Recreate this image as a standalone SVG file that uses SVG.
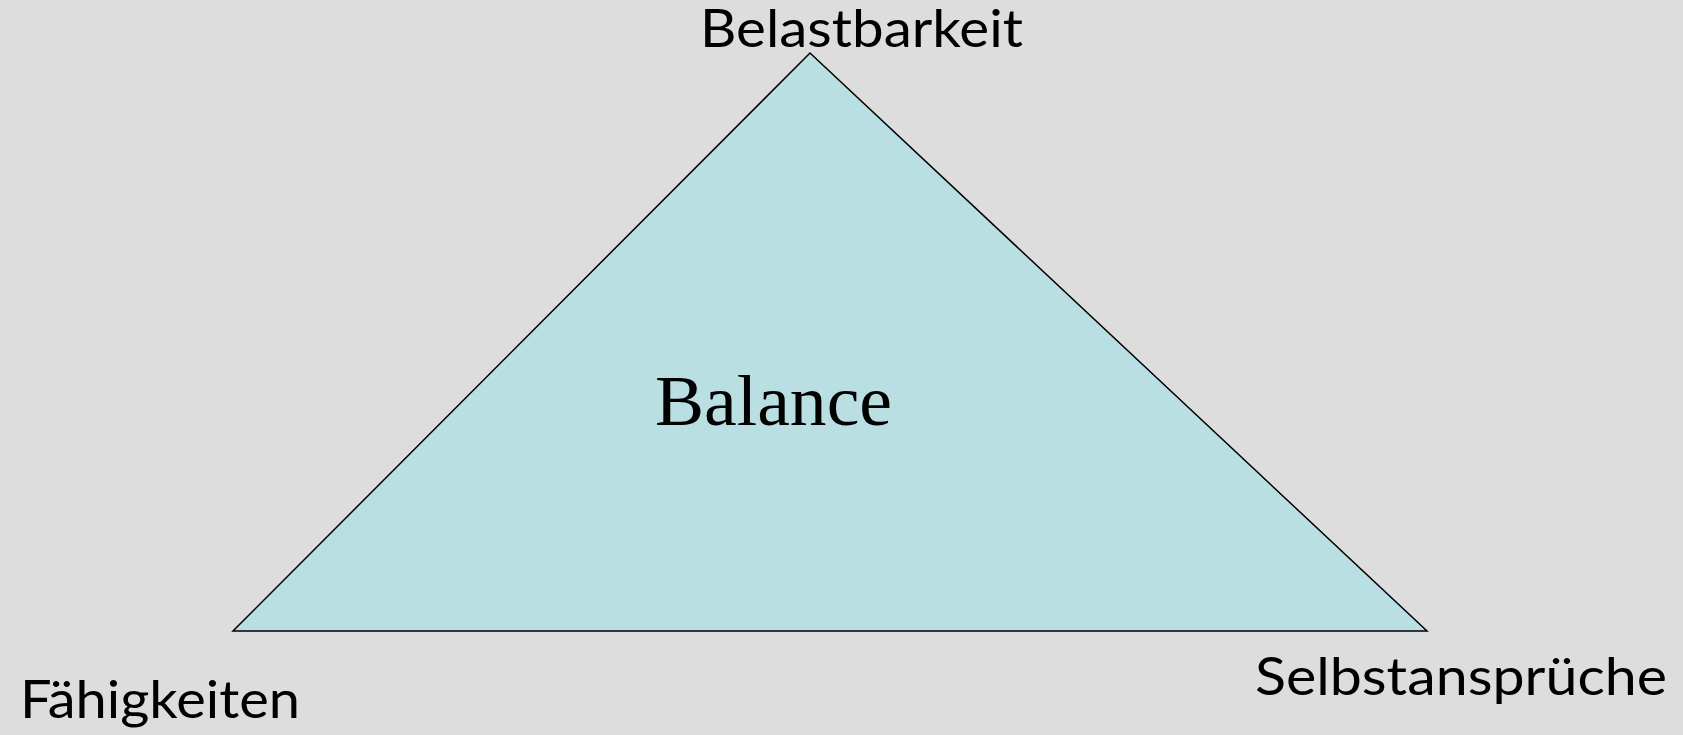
<svg xmlns="http://www.w3.org/2000/svg" width="1683" height="735" viewBox="0 0 1683 735">
<style>
.lbl{font-family:Lato,"Open Sans","Liberation Sans",sans-serif;font-size:53px;fill:#000}
.ctr{font-family:"Liberation Serif","Times New Roman",serif;font-size:72px;fill:#000}
</style>
<rect width="1683" height="735" fill="#DDDDDD"/>
<g id="triangle">
<polygon points="810,53 233,631 1427,631" fill="#B9DFE3" stroke="#000" stroke-width="1.5"/>
<text class="ctr" x="655" y="425" textLength="237" lengthAdjust="spacingAndGlyphs">Balance</text>
</g>
<g id="top"><text class="lbl" x="700" y="47" textLength="323" lengthAdjust="spacingAndGlyphs">Belastbarkeit</text></g>
<g id="left"><text class="lbl" x="20" y="718" textLength="280" lengthAdjust="spacingAndGlyphs">Fähigkeiten</text></g>
<g id="right"><text class="lbl" x="1255" y="695" textLength="412" lengthAdjust="spacingAndGlyphs">Selbstansprüche</text></g>
<g id="connectors"></g>
</svg>
